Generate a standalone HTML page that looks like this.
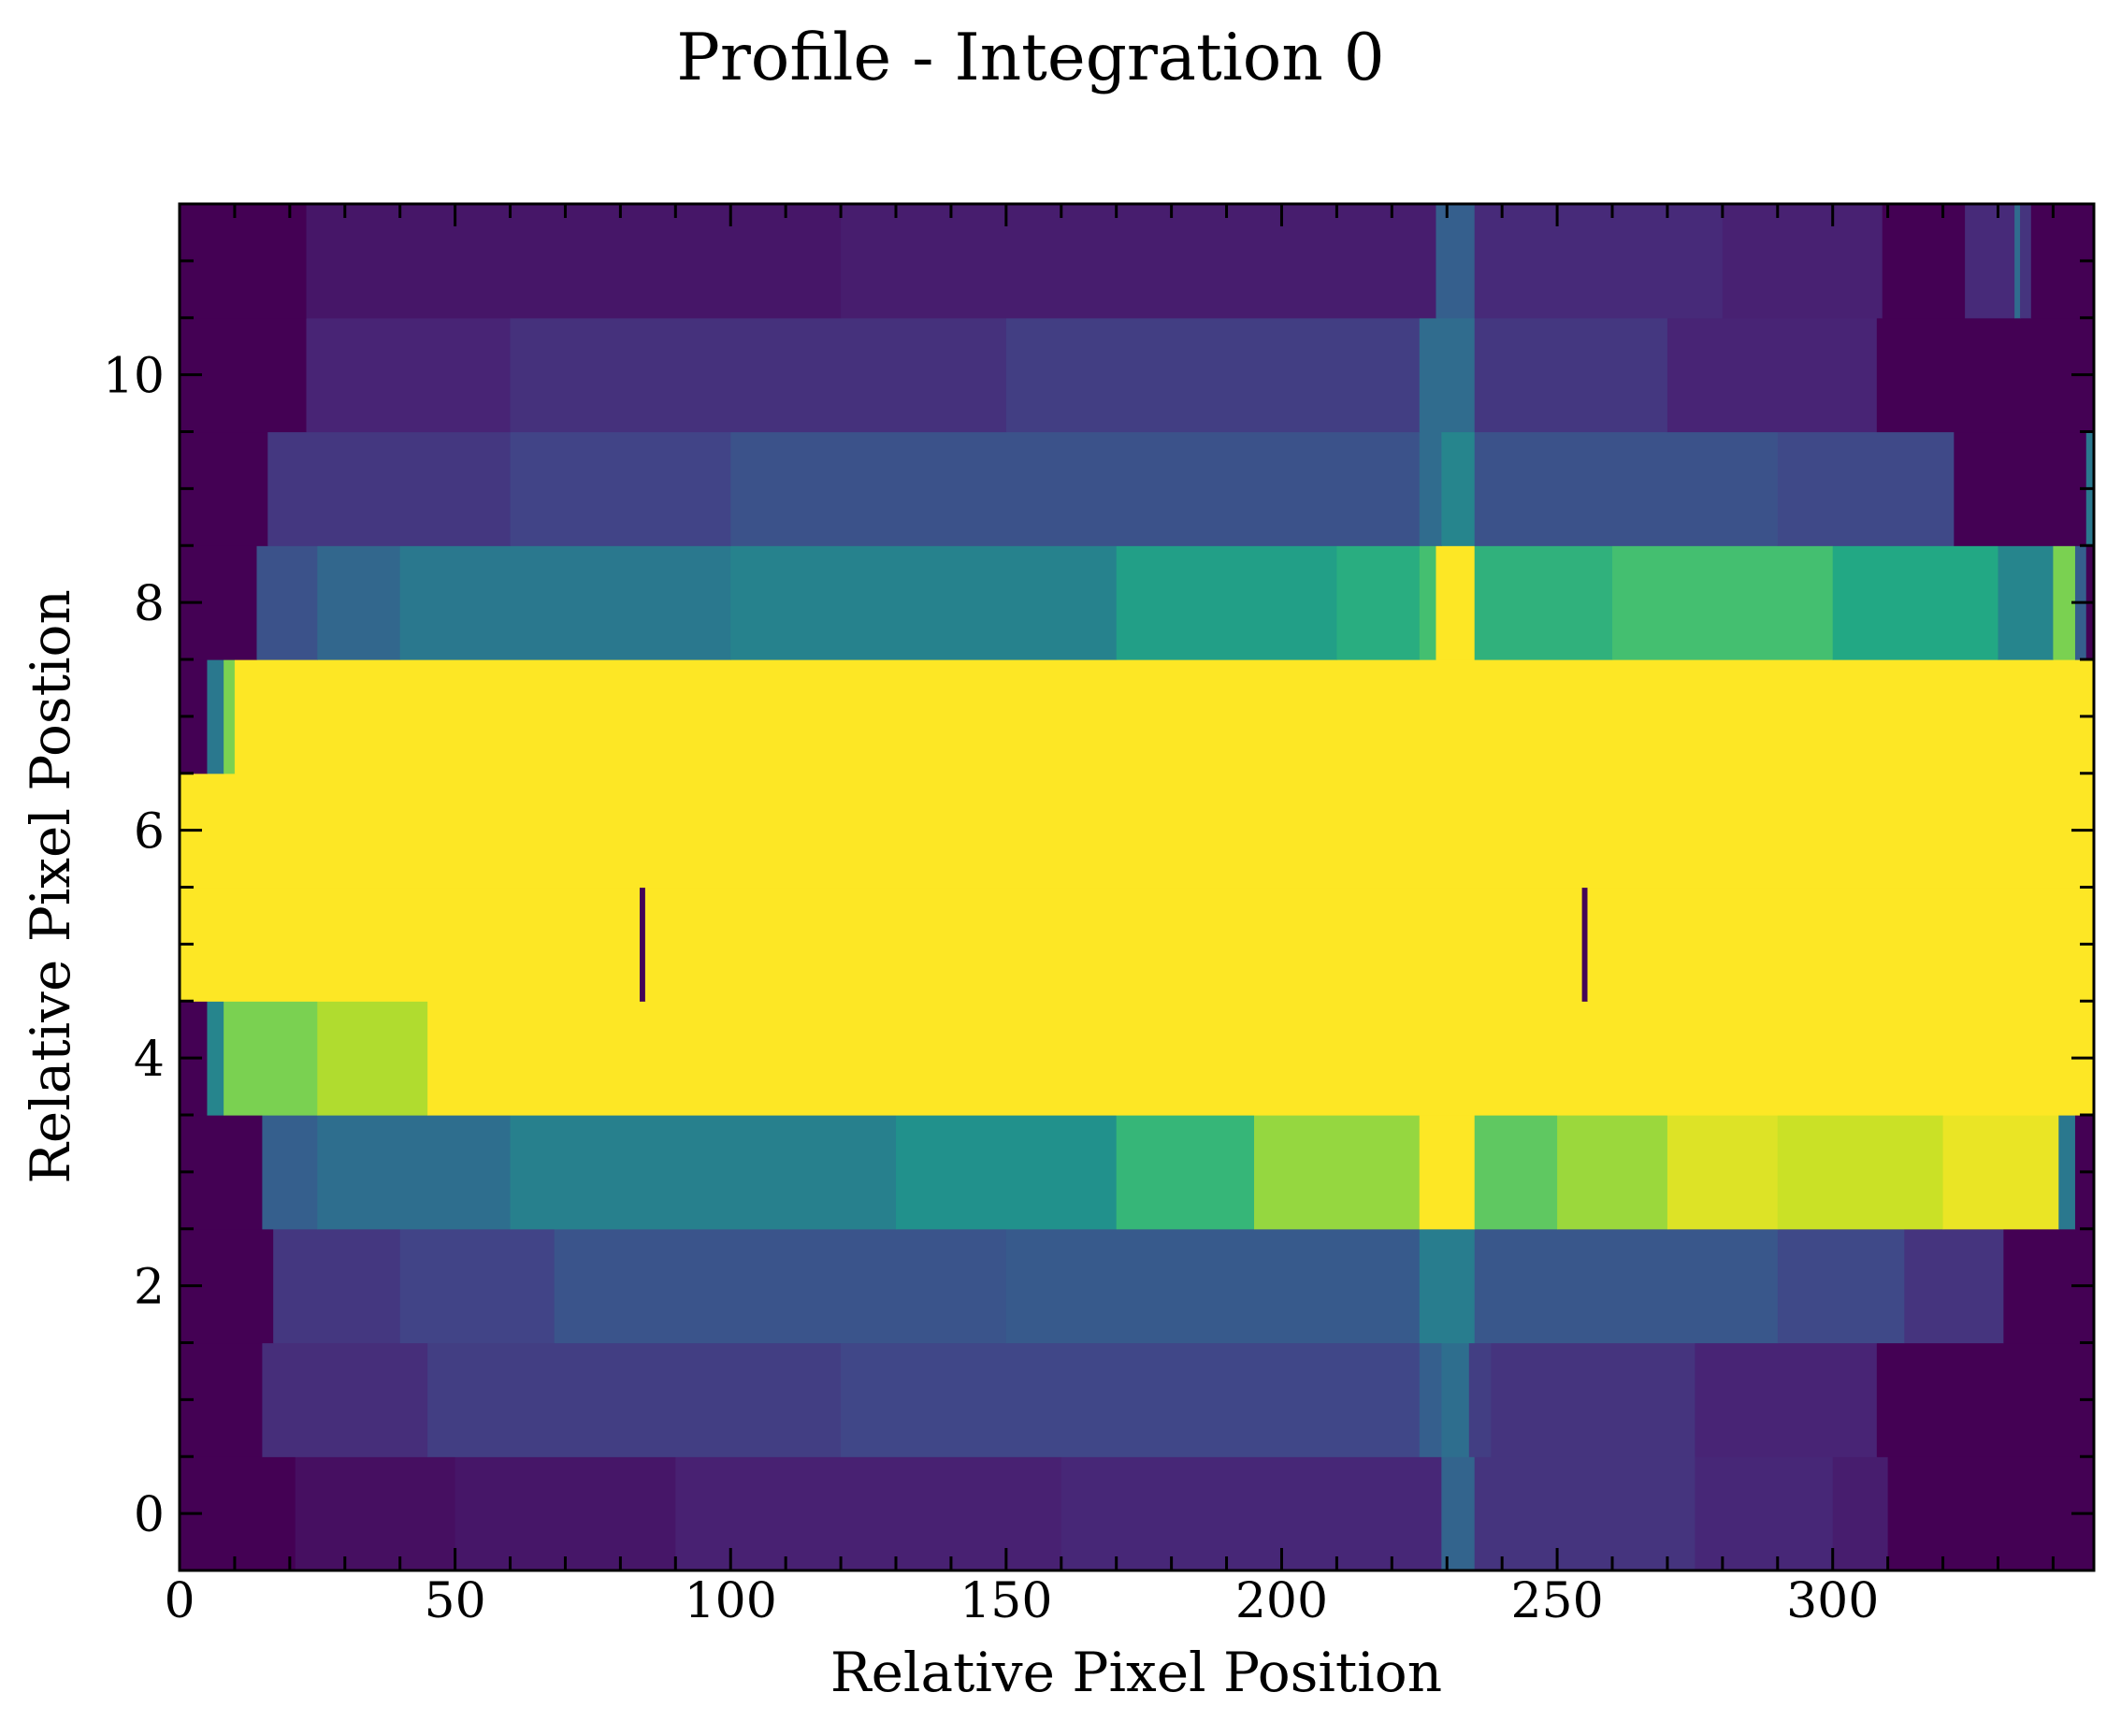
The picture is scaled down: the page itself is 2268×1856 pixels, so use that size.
<!DOCTYPE html>
<html><head><meta charset="utf-8"><style>
body{margin:0;background:#fff}
svg text{font-family:"DejaVu Serif","Liberation Serif",serif;fill:#000}
</style></head><body>
<svg id="chart" width="2268" height="1851" viewBox="0 0 2268 1851" xmlns="http://www.w3.org/2000/svg">
<text x="1102" y="85" font-size="69" text-anchor="middle">Profile - Integration 0</text>
<g id="cells"></g>
<g id="ticks"></g>
<rect x="192" y="218" width="2047" height="1461" fill="none" stroke="#000" stroke-width="3"/>
<text x="1215" y="1808" font-size="58" text-anchor="middle">Relative Pixel Position</text>
<text transform="translate(74,948) rotate(-90)" font-size="58" text-anchor="middle">Relative Pixel Postion</text>
</svg>
<script>
// rows: [start, end, value(0..1)] segments per row index 0..11
const row0=[[0,21,0],[21,50,0.04],[50,90,0.06],[90,160,0.09],[160,229,0.11],[229,235,0.32],[235,275,0.15],[275,300,0.11],[300,310,0.08],[310,348,0]];
const row1=[[0,15,0],[15,45,0.13],[45,120,0.18],[120,225,0.21],[225,229,0.3],[229,234,0.36],[234,238,0.18],[238,275,0.15],[275,308,0.1],[308,348,0]];
const row2=[[0,17,0],[17,40,0.16],[40,68,0.2],[68,150,0.26],[150,225,0.28],[225,235,0.42],[235,290,0.27],[290,313,0.22],[313,331,0.15],[331,348,0]];
const row3=[[0,15,0],[15,25,0.3],[25,60,0.36],[60,130,0.43],[130,170,0.5],[170,195,0.66],[195,225,0.84],[225,235,1],[235,250,0.75],[250,270,0.85],[270,290,0.95],[290,320,0.92],[320,341,0.97],[341,344,0.4],[344,348,0]];
const row4=[[0,5,0],[5,8,0.45],[8,25,0.8],[25,45,0.88],[45,348,1]];
const row5=[[0,83.5,1],[83.5,84.5,0.01],[84.5,254.5,1],[254.5,255.5,0.01],[255.5,348,1]];
const row6=[[0,348,1]];
const row7=[[0,5,0],[5,8,0.4],[8,10,0.8],[10,348,1]];
const row8=[[0,14,0],[14,25,0.25],[25,40,0.33],[40,100,0.4],[100,170,0.44],[170,210,0.56],[210,225,0.62],[225,228,0.7],[228,235,1],[235,260,0.64],[260,300,0.7],[300,330,0.6],[330,340,0.45],[340,344,0.8],[344,346,0.3],[346,348,0]];
const row9=[[0,16,0],[16,60,0.16],[60,100,0.2],[100,225,0.25],[225,229,0.35],[229,235,0.45],[235,290,0.25],[290,322,0.22],[322,346,0],[346,348,0.4]];
const row10=[[0,23,0],[23,60,0.1],[60,150,0.14],[150,225,0.18],[225,235,0.35],[235,270,0.16],[270,308,0.1],[308,348,0]];
const row11=[[0,23,0],[23,120,0.06],[120,228,0.08],[228,235,0.3],[235,280,0.12],[280,309,0.09],[309,324,0],[324,333,0.12],[333,334,0.35],[334,336,0.15],[336,348,0]];
const rows=[row0,row1,row2,row3,row4,row5,row6,row7,row8,row9,row10,row11];
const xTicks=[0,50,100,150,200,250,300];
const yTicks=[0,2,4,6,8,10];

const L=192,R=2239,T=218,B=1679,XMAX=347.4,YMIN=-0.5,YMAX=11.5;
const xs=v=>L+(v/XMAX)*(R-L);
const ys=v=>B-(v-YMIN)/(YMAX-YMIN)*(B-T);
const stops=[[0,[68,1,84]],[0.1,[72,36,117]],[0.2,[65,68,135]],[0.3,[53,95,141]],[0.4,[42,120,142]],[0.5,[33,145,140]],[0.6,[34,168,132]],[0.7,[68,191,112]],[0.8,[122,209,81]],[0.9,[189,223,38]],[1,[253,231,37]]];
function vir(t){t=Math.max(0,Math.min(1,t));for(let i=1;i<stops.length;i++){if(t<=stops[i][0]){const a=stops[i-1],b=stops[i],f=(t-a[0])/(b[0]-a[0]);return 'rgb('+a[1].map((c,k)=>Math.round(c+(b[1][k]-c)*f)).join(',')+')';}}return 'rgb(253,231,37)';}
const NS='http://www.w3.org/2000/svg';
const cg=document.getElementById('cells');
rows.forEach((segs,ri)=>{segs.forEach(s=>{
 const r=document.createElementNS(NS,'rect');
 
 
 const x0=xs(s[0]),x1=xs(Math.min(s[1],XMAX));
 r.setAttribute('x',x0);r.setAttribute('width',Math.max(0,x1-x0+0.6));
 r.setAttribute('y',ys(ri+0.5));r.setAttribute('height',ys(ri-0.5)-ys(ri+0.5)+0.6);
 r.setAttribute('fill',vir(s[2]));cg.appendChild(r);});});
const tg=document.getElementById('ticks');
function line(x1,y1,x2,y2,w){const l=document.createElementNS(NS,'line');
 
 
 l.setAttribute('x1',x1);l.setAttribute('y1',y1);l.setAttribute('x2',x2);l.setAttribute('y2',y2);l.setAttribute('stroke','#000');l.setAttribute('stroke-width',w);tg.appendChild(l);}
function txt(x,y,s,anchor){const t=document.createElementNS(NS,'text');
 
 
 t.setAttribute('x',x);t.setAttribute('y',y);t.setAttribute('font-size','52');t.setAttribute('text-anchor',anchor);t.textContent=s;tg.appendChild(t);}
for(let v=0;v<=XMAX;v+=10){const x=xs(v),maj=v%50===0,len=maj?24:15;
 line(x,B,x,B-len,3);line(x,T,x,T+len,3);}
xTicks.forEach(v=>txt(xs(v),B+50,String(v),'middle'));
for(let v=-0.5;v<=11.5;v+=0.5){if(v===-0.5||v===11.5)continue;const y=ys(v),maj=v%2===0,len=maj?24:15;
 line(L,y,L+len,y,3);line(R,y,R-len,y,3);}
yTicks.forEach(v=>txt(L-16,ys(v)+19,String(v),'end'));
</script>
</body></html>
